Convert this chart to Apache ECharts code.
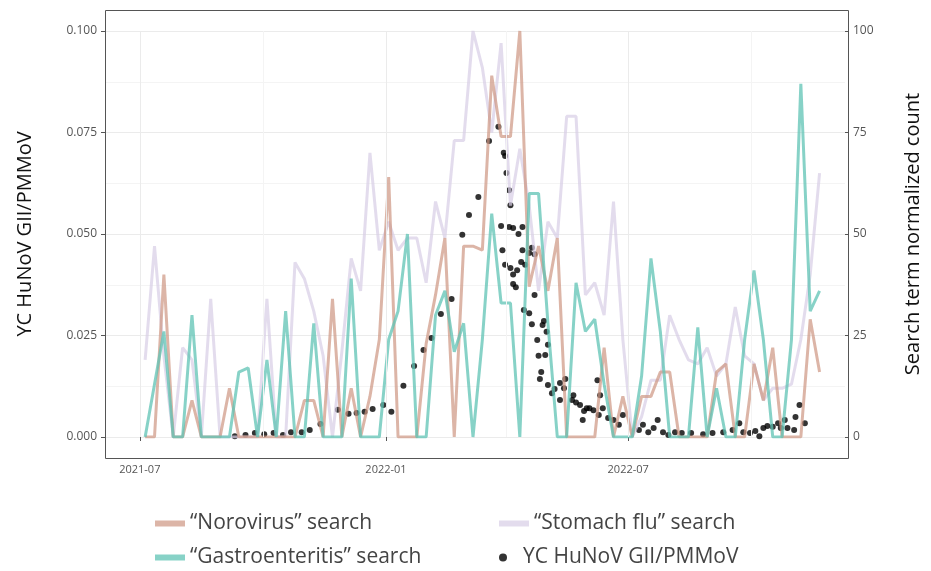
<!DOCTYPE html>
<html>
<head>
<meta charset="utf-8">
<script src="https://cdn.jsdelivr.net/npm/echarts@6/dist/echarts.min.js"></script>
<style>
  html, body { margin: 0; padding: 0; background: #fff; }
  #chart { width: 931px; height: 571px; }
</style>
</head>
<body>
<div id="chart"></div>
<script>
// weekly search data, first week 2021-07-05
const firstWeek = '2021-07-05'
const norovirus = [0,0,40,0,0,9,0,0,0,12,0,0,0,0,0,0,0,9,9,0,34,0,12,0,10,24,64,0,0,0,
    23,35,49,0,47,47,46,89,74,74,100,37,47,36,49,0,0,0,0,22,0,10,0,10,10,16,16,0,0,0,
    0,16,18,0,0,18,9,22,0,0,0,29,16]
const gastro = [0,13,26,0,0,30,0,0,0,0,16,17,0,19,0,31,0,0,28,0,0,0,39,0,0,0,24,31,50,0,
    0,30,36,21,28,0,24,55,33,33,0,60,60,28,0,0,38,26,29,13,0,0,0,15,44,26,0,0,0,27,
    0,12,0,0,24,41,24,0,0,24,87,31,36]
const stomachFlu = [19,47,20,0,22,19,0,34,0,0,0,0,0,34,0,0,43,39,31,20,0,21,44,36,70,46,53,46,49,49,
    38,58,49,73,73,100,91,75,97,57,71,57,36,53,49,79,79,35,38,30,58,24,0,5,14,14,30,24,19,18,
    22,15,18,32,20,18,9,12,12,13,24,40,65]

// wastewater samples: [days since 2021-07-01, GII/PMMoV]
const dayZero = '2021-07-01'
const huNoV = [
    [71,0.0002],[79,0.0005],[86,0.001],[93,0.0007],[100,0.001],[107,0.0005],[113,0.0012],[121,0.0012],
    [127,0.0017],[135,0.0032],[148,0.0067],[156,0.0057],[162,0.0059],[168,0.0062],[174,0.0069],[182,0.0079],
    [188,0.0062],[197,0.0126],[205,0.0175],[212,0.0214],[218,0.0244],[225,0.0303],[233,0.034],[241,0.0498],
    [246,0.0547],[253,0.0591],[261,0.0729],[268,0.0764],[272,0.070],[273,0.0692],[274,0.065],[276,0.0608],
    [277,0.0571],[279,0.0515],[283,0.050],[286,0.0517],[286,0.046],[291,0.0453],[293,0.0466],[276,0.0517],
    [270,0.052],[271,0.046],[273,0.0424],[277,0.0416],[279,0.040],[282,0.0411],[285,0.0431],[279,0.0377],
    [281,0.0369],[288,0.0424],[295,0.045],[295,0.035],[291,0.0305],[293,0.0278],[287,0.0313],[302,0.0286],
    [304,0.0259],[297,0.0239],[301,0.0276],[305,0.0227],[303,0.0202],[298,0.020],[300,0.016],[299,0.0143],
    [305,0.0128],[308,0.0108],[310,0.0118],[314,0.0133],[314,0.0091],[317,0.012],[324,0.0103],[323,0.0091],
    [329,0.0079],[331,0.0042],[334,0.0071],[336,0.0071],[339,0.0066],[343,0.0054],[346,0.0071],[350,0.0047],
    [354,0.0042],[358,0.003],[361,0.0054],[344,0.0103],[342,0.014],[318,0.0143],[326,0.0085],[332,0.0064],
    [373,0.0017],[376,0.003],[380,0.0012],[384,0.0022],[387,0.0042],[391,0.0012],[395,0.0005],[400,0.0012],
    [405,0.001],[412,0.001],[421,0.0007],[428,0.001],[436,0.0012],[443,0.0017],[448,0.0034],[451,0.0012],
    [456,0.001],[460,0.0015],[463,0.0002],[466,0.0022],[469,0.0027],[473,0.0025],[477,0.0034],[479,0.0022],
    [482,0.0042],[484,0.0022],[489,0.0017],[490,0.0049],[493,0.0079],[497,0.0034]
]

const xTicks = ['2021-07-01', '2022-01-01', '2022-07-01']
const xMinorGrid = ['2021-10-01', '2022-04-01', '2022-10-01']

const DAY = 86400000
const ms = d => Date.parse(d + 'T00:00:00Z')
const weekDates = norovirus.map((v, i) => ms(firstWeek) + i * 7 * DAY)
const pair = arr => arr.map((v, i) => [weekDates[i], v])
const sampleData = huNoV.map(d => [ms(dayZero) + d[0] * DAY, d[1]])
const pad = n => (n < 10 ? '0' : '') + n

const tan = 'rgba(205,150,130,0.7)'
const teal = 'rgba(95,195,180,0.75)'
const lav = 'rgba(215,205,230,0.7)'

const legendItem = (name, icon, left, top, h) => ({
    type: 'plain', left: left, top: top, itemWidth: 30, itemHeight: h, itemGap: 0,
    textStyle: { fontSize: 21, color: '#444' },
    data: [{ name: name, icon: icon }]
})

const myChart = echarts.init(document.getElementById('chart'))
const options = {
    animation: false,
    textStyle: { fontFamily: 'Open Sans' },
    grid: { left: 105, right: 83, top: 31, bottom: 134 },
    graphic: [{
        type: 'rect', silent: true, z: 100,
        shape: { x: 105.5, y: 10.5, width: 743, height: 448 },
        style: { fill: 'none', stroke: '#555', lineWidth: 1 }
    }],
    legend: [
        legendItem('“Norovirus” search', 'rect', 150, 508, 6),
        legendItem('“Gastroenteritis” search', 'rect', 150, 542, 6),
        legendItem('“Stomach flu” search', 'rect', 494, 508, 6),
        legendItem('YC HuNoV GII/PMMoV', 'circle', 494, 542, 8)
    ],
    xAxis: {
        type: 'value',
        min: ms('2021-06-05'),
        max: ms('2022-12-10'),
        offset: 21,
        splitLine: { show: false },
        axisLine: { show: false },
        axisTick: { customValues: xTicks.map(ms), length: 4, lineStyle: { color: '#555' } },
        axisLabel: {
            customValues: xTicks.map(ms),
            color: '#555', fontSize: 11, margin: 6,
            formatter: v => { const d = new Date(v); return d.getUTCFullYear() + '-' + pad(d.getUTCMonth() + 1) }
        }
    },
    yAxis: [
        {
            type: 'value', min: 0, max: 0.1, interval: 0.025,
            name: 'YC HuNoV GII/PMMoV', nameLocation: 'middle', nameGap: 70, nameRotate: 90,
            nameTextStyle: { fontSize: 20, color: '#111' },
            axisLine: { show: false },
            axisTick: { show: true, length: 4, lineStyle: { color: '#555' } },
            axisLabel: { color: '#555', fontSize: 12, formatter: v => v.toFixed(3) },
            splitLine: { lineStyle: { color: '#ebebeb' } },
            minorTick: { show: false, splitNumber: 2 },
            minorSplitLine: { show: true, lineStyle: { color: '#f4f4f4' } }
        },
        {
            type: 'value', min: 0, max: 100, interval: 25,
            name: 'Search term normalized count', nameLocation: 'middle', nameGap: 58, nameRotate: 90,
            nameTextStyle: { fontSize: 20, color: '#111' },
            axisLine: { show: false },
            axisTick: { show: true, length: 4, lineStyle: { color: '#555' } },
            axisLabel: { color: '#555', fontSize: 12 },
            splitLine: { show: false }
        }
    ],
    series: [
        {
            name: 'grid', type: 'line', data: [], silent: true,
            markLine: {
                symbol: 'none', silent: true, label: { show: false },
                data: xTicks.map(d => ({ xAxis: ms(d), lineStyle: { color: '#ebebeb', width: 1, type: 'solid' } }))
                    .concat(xMinorGrid.map(d => ({ xAxis: ms(d), lineStyle: { color: '#f4f4f4', width: 1, type: 'solid' } })))
            }
        },
        {
            name: '“Stomach flu” search', type: 'line', yAxisIndex: 1, data: pair(stomachFlu),
            showSymbol: false, lineStyle: { color: lav, width: 3 }, itemStyle: { color: lav }
        },
        {
            name: '“Norovirus” search', type: 'line', yAxisIndex: 1, data: pair(norovirus),
            showSymbol: false, lineStyle: { color: tan, width: 3 }, itemStyle: { color: tan }
        },
        {
            name: '“Gastroenteritis” search', type: 'line', yAxisIndex: 1, data: pair(gastro),
            showSymbol: false, lineStyle: { color: teal, width: 3 }, itemStyle: { color: teal }
        },
        {
            name: 'YC HuNoV GII/PMMoV', type: 'scatter', yAxisIndex: 0, data: sampleData,
            symbolSize: 6, itemStyle: { color: '#000' }
        }
    ]
}
myChart.setOption(options)
</script>
</body>
</html>
